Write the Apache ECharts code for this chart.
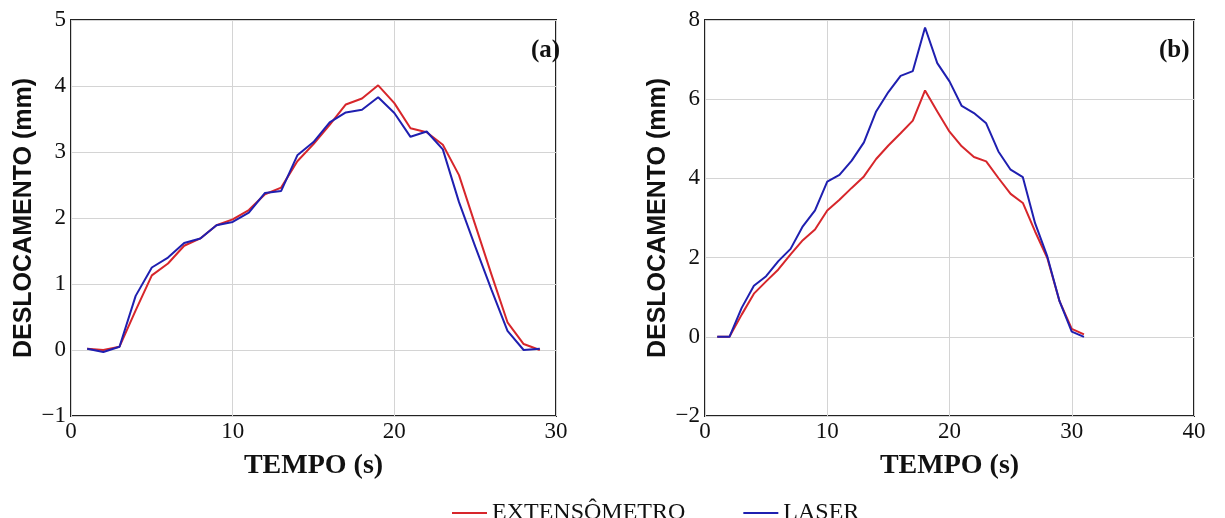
<!DOCTYPE html>
<html>
<head>
<meta charset="utf-8">
<script src="https://cdn.jsdelivr.net/npm/echarts@6/dist/echarts.min.js"></script>
<style>
  html, body { margin: 0; padding: 0; background: #fff; }
  #chart { width: 1225px; height: 518px; }
</style>
</head>
<body>
<div id="chart"></div>
<script>
// painel (a)
var tempoA = [1,2,3,4,5,6,7,8,9,10,11,12,13,14,15,16,17,18,19,20,21,22,23,24,25,26,27,28,29];
var extA   = [0.02,0.0,0.05,0.6,1.13,1.31,1.58,1.69,1.89,1.98,2.12,2.36,2.46,2.86,3.12,3.41,3.72,3.81,4.01,3.74,3.36,3.30,3.11,2.65,1.9,1.15,0.42,0.09,0.0];
var laserA = [0.02,-0.03,0.05,0.82,1.25,1.40,1.62,1.69,1.89,1.94,2.08,2.38,2.41,2.95,3.15,3.45,3.60,3.64,3.83,3.59,3.23,3.31,3.04,2.24,1.57,0.92,0.29,0.0,0.02];

// painel (b)
var tempoB = [1,2,3,4,5,6,7,8,9,10,11,12,13,14,15,16,17,18,19,20,21,22,23,24,25,26,27,28,29,30,31];
var extB   = [0,0,0.56,1.09,1.40,1.70,2.08,2.44,2.71,3.19,3.46,3.76,4.05,4.49,4.83,5.14,5.46,6.22,5.69,5.18,4.81,4.54,4.43,4.01,3.61,3.38,2.66,1.99,0.9,0.2,0.06];
var laserB = [0,0,0.73,1.29,1.53,1.91,2.22,2.79,3.19,3.92,4.09,4.45,4.91,5.69,6.18,6.59,6.71,7.81,6.91,6.45,5.83,5.65,5.39,4.68,4.22,4.03,2.87,2.03,0.9,0.13,0.0];

var corExt = '#d7262b';
var corLaser = '#1f1fb0';

function pares(xs, ys) {
  var out = [];
  for (var i = 0; i < xs.length; i++) out.push([xs[i], ys[i]]);
  return out;
}

var chart = echarts.init(document.getElementById('chart'));

var tickFont = { fontFamily: 'Liberation Serif, serif', fontSize: 23, color: '#111' };
var gridLine = { show: true, lineStyle: { color: '#d4d4d4', width: 1 } };
function menos(v) { return String(v).replace('-', '\u2212'); }

function eixoX(idx, max) {
  return {
    type: 'value', gridIndex: idx, min: 0, max: max, interval: 10,
    name: 'TEMPO (s)', nameLocation: 'middle', nameGap: 36,
    nameTextStyle: { fontFamily: 'Liberation Serif, serif', fontWeight: 'bold', fontSize: 28, color: '#111' },
    axisLine: { show: false }, axisTick: { show: false },
    axisLabel: Object.assign({ margin: 4 }, tickFont),
    splitLine: gridLine
  };
}
function eixoY(idx, min, max, step) {
  return {
    type: 'value', gridIndex: idx, min: min, max: max, interval: step,
    name: 'DESLOCAMENTO (mm)', nameLocation: 'middle', nameGap: 34, nameRotate: 90,
    nameTextStyle: { fontFamily: 'Liberation Sans, Arial, sans-serif', fontWeight: 'bold', fontSize: 25, color: '#111' },
    axisLine: { show: false }, axisTick: { show: false },
    axisLabel: Object.assign({ margin: 5, formatter: menos }, tickFont),
    splitLine: gridLine
  };
}
function serie(nome, xi, yi, dados, cor) {
  return {
    name: nome, type: 'line', xAxisIndex: xi, yAxisIndex: yi,
    data: dados, showSymbol: false, symbol: 'none',
    lineStyle: { color: cor, width: 2 }, itemStyle: { color: cor }
  };
}

var option = {
  backgroundColor: '#fff',
  animation: false,
  title: [
    { text: '(a)', left: 526, top: 33, textStyle: { fontFamily: 'Liberation Serif, serif', fontWeight: 'bold', fontSize: 25, color: '#111' } },
    { text: '(b)', left: 1154, top: 33, textStyle: { fontFamily: 'Liberation Serif, serif', fontWeight: 'bold', fontSize: 25, color: '#111' } }
  ],
  legend: {
    left: 447, top: 496, itemGap: 58, itemWidth: 35, itemHeight: 2, icon: 'rect',
    textStyle: { fontFamily: 'Liberation Serif, serif', fontSize: 24, color: '#111' },
    data: ['EXTENSÔMETRO', 'LASER']
  },
  grid: [
    { left: 71, top: 20, width: 485, height: 396, show: true, borderColor: '#222', borderWidth: 2, backgroundColor: '#fff' },
    { left: 705, top: 20, width: 489, height: 396, show: true, borderColor: '#222', borderWidth: 2, backgroundColor: '#fff' }
  ],
  xAxis: [eixoX(0, 30), eixoX(1, 40)],
  yAxis: [eixoY(0, -1, 5, 1), eixoY(1, -2, 8, 2)],
  series: [
    serie('EXTENSÔMETRO', 0, 0, pares(tempoA, extA), corExt),
    serie('LASER', 0, 0, pares(tempoA, laserA), corLaser),
    serie('EXTENSÔMETRO', 1, 1, pares(tempoB, extB), corExt),
    serie('LASER', 1, 1, pares(tempoB, laserB), corLaser)
  ]
};

chart.setOption(option);
</script>
</body>
</html>
